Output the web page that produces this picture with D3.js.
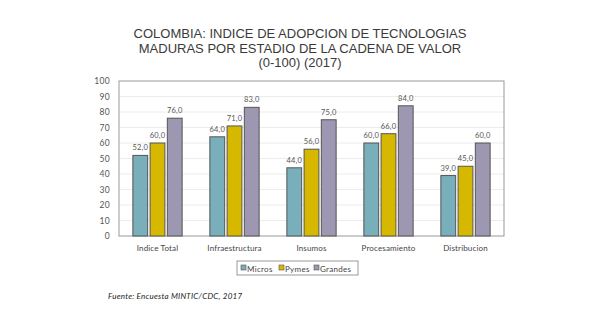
<!DOCTYPE html>
<html><head><meta charset="utf-8">
<script src="https://cdn.jsdelivr.net/npm/d3@7"></script>
<style>body{margin:0;background:#fff}svg{display:block}</style>
</head><body>
<script>
const categories = ["Indice Total","Infraestructura","Insumos","Procesamiento","Distribucion"];
const seriesNames = ["Micros","Pymes","Grandes"];
const micros = [52,64,44,60,39];
const pymes = [60,71,56,66,45];
const grandes = [76,83,75,84,60];
const yTicks = [0,10,20,30,40,50,60,70,80,90,100];
const titleLines = ["COLOMBIA: INDICE DE ADOPCION DE TECNOLOGIAS","MADURAS POR ESTADIO DE LA CADENA DE VALOR","(0-100) (2017)"];
const source = "Fuente: Encuesta MINTIC/CDC, 2017";
const colors = ["#79aebb","#d6b800","#9d97b1"];
const values = [micros,pymes,grandes];

const W=591,H=321;
const svg=d3.select("body").append("svg").attr("width",W).attr("height",H);
const L=119,R=504,T=81,B=236;
const x=d3.scaleBand().domain(categories).range([L,R]).paddingInner(0.36).paddingOuter(0.18);
const xs=d3.scaleBand().domain(seriesNames).range([0,x.bandwidth()]).paddingInner(0.14);
const y=d3.scaleLinear().domain([0,100]).range([B,T]);
const gfont="'Century Gothic','Lato','Open Sans',sans-serif";

svg.selectAll(".title").data(titleLines).enter().append("text")
 .attr("x",300).attr("y",(d,i)=>38+i*14.5).attr("text-anchor","middle")
 .attr("font-family","'Liberation Sans',Arial,sans-serif").attr("font-size",13).attr("fill","#3a3a3a").text(d=>d);

// grid
svg.append("g").selectAll("line").data(yTicks.filter(t=>t>0&&t<100)).enter().append("line")
 .attr("x1",L).attr("x2",R).attr("y1",d=>y(d)).attr("y2",d=>y(d)).attr("stroke","#ececec").attr("stroke-width",1);

const yAxis=svg.append("g").attr("transform",`translate(${L},0)`)
 .call(d3.axisLeft(y).tickValues(yTicks).tickSize(0).tickPadding(9));
yAxis.select(".domain").remove();
yAxis.selectAll("text").attr("font-family",gfont).attr("font-size",8.5).attr("letter-spacing",0.3).attr("fill","#555");

const xAxis=svg.append("g").attr("transform",`translate(0,${B})`)
 .call(d3.axisBottom(x).tickSize(0).tickPadding(9));
xAxis.select(".domain").remove();
xAxis.selectAll("text").attr("font-family",gfont).attr("font-size",8).attr("letter-spacing",0.15).attr("fill","#444");

// border
svg.append("rect").attr("x",L).attr("y",T).attr("width",R-L).attr("height",B-T)
 .attr("fill","none").attr("stroke","#999").attr("stroke-width",1);

seriesNames.forEach((s,si)=>{
 const g=svg.append("g");
 g.selectAll("rect").data(categories).enter().append("rect")
  .attr("x",c=>x(c)+xs(s)).attr("width",xs.bandwidth())
  .attr("y",(c,i)=>y(values[si][i])).attr("height",(c,i)=>B-y(values[si][i]))
  .attr("fill",colors[si]).attr("stroke","#555").attr("stroke-width",1);
 g.selectAll("text").data(categories).enter().append("text")
  .attr("x",c=>x(c)+xs(s)+xs.bandwidth()/2).attr("y",(c,i)=>y(values[si][i])-5)
  .attr("text-anchor","middle").attr("font-family",gfont).attr("font-size",7.5).attr("letter-spacing",0.2).attr("fill","#555")
  .text((c,i)=>d3.format(".1f")(values[si][i]).replace(".",","));
});

// legend
const lg=svg.append("g");
lg.append("rect").attr("x",237).attr("y",261).attr("width",121).attr("height",14).attr("fill","#fff").attr("stroke","#999");
const lx=[241,279,314];
seriesNames.forEach((s,i)=>{
 lg.append("rect").attr("x",lx[i]).attr("y",265).attr("width",5).attr("height",5).attr("fill",colors[i]).attr("stroke","#555").attr("stroke-width",0.6);
 lg.append("text").attr("x",lx[i]+6).attr("y",271.5).attr("font-family",gfont).attr("font-size",8).attr("letter-spacing",0.3).attr("fill","#444").text(s);
});

svg.append("text").attr("x",108).attr("y",299).attr("font-family",gfont).attr("font-style","italic")
 .attr("font-size",8).attr("letter-spacing",0.25).attr("fill","#222").text(source);
</script>
</body></html>
